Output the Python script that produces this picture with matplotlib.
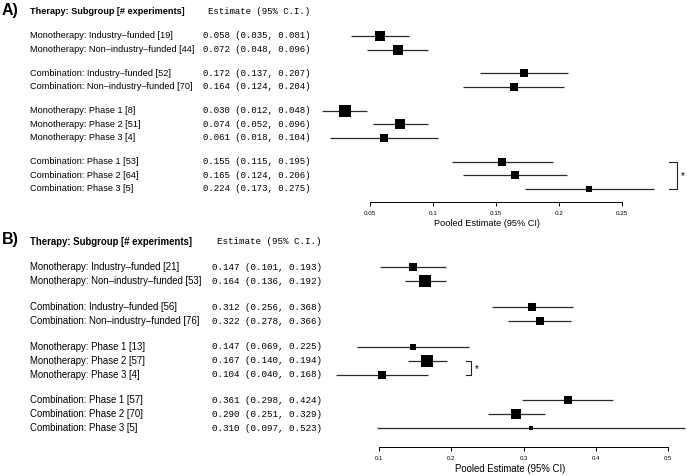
import matplotlib
matplotlib.use("Agg")
import matplotlib.pyplot as plt
from matplotlib.transforms import blended_transform_factory
import numpy as np

# ---------------- data ----------------
labels_a = ["Monotherapy: Industry–funded", "Monotherapy: Non–industry–funded",
            "Combination: Industry–funded", "Combination: Non–industry–funded",
            "Monotherapy: Phase 1", "Monotherapy: Phase 2", "Monotherapy: Phase 3",
            "Combination: Phase 1", "Combination: Phase 2", "Combination: Phase 3"]
groups_a = [0, 0, 1, 1, 2, 2, 2, 3, 3, 3]
n_a = [19, 44, 52, 70, 8, 51, 4, 53, 64, 5]
est_a = [0.058, 0.072, 0.172, 0.164, 0.030, 0.074, 0.061, 0.155, 0.165, 0.224]
lo_a = [0.035, 0.048, 0.137, 0.124, 0.012, 0.052, 0.018, 0.115, 0.124, 0.173]
hi_a = [0.081, 0.096, 0.207, 0.204, 0.048, 0.096, 0.104, 0.195, 0.206, 0.275]
ticks_a = [0.05, 0.1, 0.15, 0.2, 0.25]
ticklabels_a = ["0.05", "0.1", "0.15", "0.2", "0.25"]
sig_a = (7, 9)

labels_b = labels_a
groups_b = groups_a
n_b = [21, 53, 56, 76, 13, 57, 4, 57, 70, 5]
est_b = [0.147, 0.164, 0.312, 0.322, 0.147, 0.167, 0.104, 0.361, 0.290, 0.310]
lo_b = [0.101, 0.136, 0.256, 0.278, 0.069, 0.140, 0.040, 0.298, 0.251, 0.097]
hi_b = [0.193, 0.192, 0.368, 0.366, 0.225, 0.194, 0.168, 0.424, 0.329, 0.523]
ticks_b = [0.1, 0.2, 0.3, 0.4, 0.5]
ticklabels_b = ["0.1", "0.2", "0.3", "0.4", "0.5"]
sig_b = (5, 6)

# ---------------- layout ----------------
W, H = 687, 476
fig = plt.figure(figsize=(W / 100, H / 100), dpi=100)
SANS = ["Liberation Sans", "DejaVu Sans"]
MONO = ["Liberation Mono", "DejaVu Sans Mono"]


def panel(tag, labels, groups, n, est, lo, hi, ticks, ticklabels, sig,
          x0_px, px_per_unit, axis_px, top_px, first_px, step, gap,
          fs, mfs, tfs, mono_x, mono_hdr_x, head_y, tag_y,
          size_min, size_max, xlabel_x, br_x, br_w):
    left = x0_px / W
    width = (W - x0_px) / W
    ax = fig.add_axes([left, (H - axis_px) / H, width, (axis_px - top_px) / H])
    ax.set_xlim(0, (W - x0_px) / px_per_unit)
    ax.set_ylim(axis_px, top_px)
    for s in ["top", "left", "right"]:
        ax.spines[s].set_visible(False)
    ax.spines["bottom"].set_bounds(ticks[0], ticks[-1])
    ax.spines["bottom"].set_linewidth(0.7)
    ax.set_yticks([])
    ax.set_xticks(ticks)
    ax.set_xticklabels(ticklabels, fontsize=tfs, family=SANS)
    ax.tick_params(axis="x", length=3, width=0.7, pad=3.5)
    ax.patch.set_visible(False)

    idx = np.arange(len(est))
    y = first_px + idx * step + np.array(groups) * gap
    est = np.array(est); lo = np.array(lo); hi = np.array(hi)
    inv = 1.0 / (hi - lo)
    norm = (inv - inv.min()) / (inv.max() - inv.min())
    sizes_px = size_min + (size_max - size_min) * norm

    ax.hlines(y, lo, hi, color="#2a2a2a", lw=0.9, clip_on=False)
    for xi, yi, s in zip(est, y, sizes_px):
        ax.plot([xi], [yi], marker="s", ms=s * 0.72, mew=0, color="black",
                clip_on=False, ls="none")

    tr = blended_transform_factory(fig.transFigure, ax.transData)
    for lab, k, yi, e, l, h in zip(labels, n, y, est, lo, hi):
        ax.text(30 / W, yi, f"{lab} [{k}]", transform=tr, fontsize=fs,
                family=SANS, va="center", ha="left", clip_on=False)
        ax.text(mono_x / W, yi, f"{e:.3f} ({l:.3f}, {h:.3f})", transform=tr,
                fontsize=mfs, family=MONO, va="center", ha="left", clip_on=False)
    ax.text(30 / W, head_y, "Therapy: Subgroup [# experiments]", transform=tr,
            fontsize=fs, family=SANS, fontweight="bold", va="center", ha="left")
    ax.text(mono_hdr_x / W, head_y, "Estimate (95% C.I.)", transform=tr,
            fontsize=mfs, family=MONO, va="center", ha="left")
    ax.text(2 / W, tag_y, tag, transform=tr, fontsize=11.5, family=SANS,
            fontweight="bold", va="center", ha="left")

    # significance bracket
    y1, y2 = y[sig[0]], y[sig[1]]
    bx = br_x / px_per_unit
    bw = br_w / px_per_unit
    ax.plot([bx - bw, bx, bx, bx - bw], [y1, y1, y2, y2], color="#222222",
            lw=0.8, clip_on=False)
    ax.text(bx + 3.5 / px_per_unit, (y1 + y2) / 2 + 1, "*", fontsize=7,
            family=SANS, ha="left", va="center")

    ax.set_xlabel("Pooled Estimate (95% CI)", fontsize=fs, family=SANS)
    ax.xaxis.set_label_coords(xlabel_x, -17.5 / (axis_px - top_px))
    return ax


panel("A)", labels_a, groups_a, n_a, est_a, lo_a, hi_a, ticks_a, ticklabels_a,
      sig_a, x0_px=307, px_per_unit=1260, axis_px=202, top_px=0, first_px=36,
      step=13.5, gap=10.4, fs=6.6, mfs=6.5, tfs=4.5, mono_x=203, mono_hdr_x=208,
      head_y=12, tag_y=10.5, size_min=6.7, size_max=11.3,
      xlabel_x=(487 - 307) / 380, br_x=677 - 307, br_w=8)

panel("B)", labels_b, groups_b, n_b, est_b, lo_b, hi_b, ticks_b, ticklabels_b,
      sig_b, x0_px=306.7, px_per_unit=723, axis_px=447, top_px=230,
      first_px=267.3, step=14, gap=11.7, fs=6.9, mfs=6.7, tfs=4.3,
      mono_x=212, mono_hdr_x=217, head_y=241.5, tag_y=239,
      size_min=4.7, size_max=11.7,
      xlabel_x=(510 - 306.7) / 380.3, br_x=471.3 - 306.7, br_w=5.6)

fig.savefig("out.png", dpi=100)
